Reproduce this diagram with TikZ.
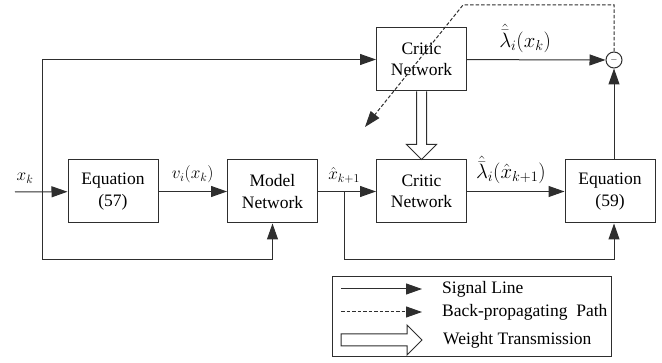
\documentclass[tikz,border=0pt]{standalone}
\usepackage{amsmath, amssymb}
\usepackage{fontspec}
\setmainfont{Liberation Serif}
\usepackage{tikz}
\usetikzlibrary{arrows.meta, positioning, calc}
\usepackage{xcolor}
\definecolor{wire}{HTML}{2E2E2E}

\tikzset{
  blockbox/.style={draw=wire, line width=1pt, minimum width=90pt, minimum height=63pt, align=center, inner sep=2pt, font=\fontsize{17.5}{21.5}\selectfont},
  sig/.style={draw=wire, line width=1pt, -{Triangle[length=16pt,width=11pt]}},
  backprop/.style={draw=wire, line width=1pt, dash pattern=on 3.5pt off 2pt, -{Triangle[length=16pt,width=11pt]}},
  hollow/.style={draw=wire, line width=1pt, fill=white, line join=miter},
  lbl/.style={font=\fontsize{18}{21}\selectfont, inner sep=1pt},
  biglbl/.style={font=\fontsize{20}{23}\selectfont, inner sep=1pt},
  legtxt/.style={font=\fontsize{17.5}{21}\selectfont, inner sep=1pt, anchor=west},
}

\begin{document}
\begin{tikzpicture}[x=1pt, y=-1pt]
\useasboundingbox (0,0) rectangle (662,363);

% blocks
\node[blockbox] (eqA) at (113,191.5) {Equation\\(57)};
\node[blockbox] (model) at (272.5,191.5) {Model\\Network};
\node[blockbox] (critB) at (421.5,191.5) {Critic\\Network};
\node[blockbox] (eqB) at (610,191.5) {Equation\\(59)};
\node[blockbox] (critA) at (421.5,59.5) {Critic\\Network};
\node[draw=wire, line width=1pt, circle, minimum size=16pt, inner sep=0pt] (sum) at (614,60) {\small$-$};

% signal lines
\coordinate (in) at (15,192);
\coordinate (split) at (42,192);
\coordinate (lowA) at (42,260);
\coordinate (split2) at (344,192);
\coordinate (lowB) at (344,260);
\node[lbl] (xk) at (25,178) {$x_k$};
\draw[sig] (in) -- (eqA);
\draw[sig] (split) |- (critA);
\draw[sig] (split) -- (lowA) -| (model.south);
\draw[sig] (eqA) -- (model) node[lbl, midway, above=7pt] (vlab) {$v_i(x_k)$};
\draw[sig] (model) -- (critB) node[lbl, pos=0.45, above=7pt] (xlab) {$\hat{x}_{k+1}$};
\draw[sig] (split2) -- (lowB) -| (eqB.south -| sum);
\draw[sig] (critB) -- (eqB) node[biglbl, pos=0.45, above=6pt] (lamB) {$\hat{\bar{\lambda}}_i(\hat{x}_{k+1})$};
\draw[sig] (critA) -- (sum) node[biglbl, pos=0.42, above=6pt] (lamA) {$\hat{\bar{\lambda}}_i(x_k)$};
\draw[sig] (eqB.north -| sum) -- (sum);

% back-propagating path
\coordinate (bpcorner) at (463,5);
\coordinate (bpend) at (365,127);
\draw[backprop] (sum.north) |- (bpcorner) -- (bpend);

% weight transmission
\draw[hollow] ($(critA.south)+(-5,0)$) -- ($(critB.north)+(-5,-15)$) -- ($(critB.north)+(-15,-15)$) -- (critB.north)
  -- ($(critB.north)+(15,-15)$) -- ($(critB.north)+(5,-15)$) -- ($(critA.south)+(5,0)$);

% legend
\node[draw=wire, line width=1pt, minimum width=279pt, minimum height=80pt] (legend) at (471.5,317) {};
\coordinate (sigA) at (341,289);
\coordinate (sigB) at (422,289);
\coordinate (bpA) at (341,312);
\coordinate (bpB) at (422,312);
\draw[sig] (sigA) -- (sigB);
\draw[backprop] (bpA) -- (bpB);
\draw[hollow] (341,334) -- (407,334) -- (407,325) -- (422,340) -- (407,355) -- (407,346) -- (341,346) -- cycle;
\node[legtxt] (sigtxt) at (441,289) {Signal Line};
\node[legtxt] (bptxt) at (441,312) {Back-propagating~~Path};
\node[legtxt] (wttxt) at (442,340) {Weight Transmission};
\end{tikzpicture}
\end{document}
